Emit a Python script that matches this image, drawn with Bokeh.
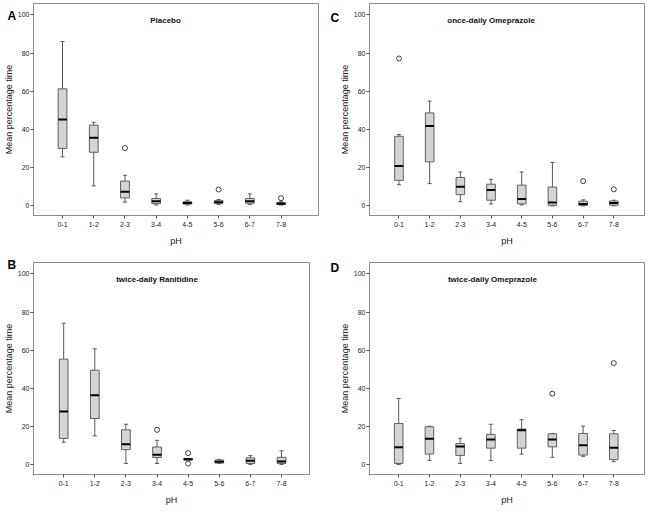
import numpy as np
from bokeh.plotting import figure
from bokeh.layouts import gridplot
from bokeh.models import FixedTicker, Label, Range1d
from bokeh.embed import file_html
from bokeh.resources import INLINE

# ---------------- data ----------------
categories = ["0-1", "1-2", "2-3", "3-4", "4-5", "5-6", "6-7", "7-8"]
y_ticks = [0, 20, 40, 60, 80, 100]

# A: Placebo
placebo_low = [25.7, 10.5, 2.0, 0.5, 0.5, 0.8, 0.7, 0.5]
placebo_q1 = [30.1, 28.1, 4.2, 1.2, 1.0, 1.4, 1.4, 0.8]
placebo_med = [45.2, 35.7, 7.5, 2.5, 1.6, 2.0, 2.4, 1.2]
placebo_q3 = [61.3, 42.3, 13.0, 3.9, 2.2, 2.8, 3.9, 1.8]
placebo_high = [86.1, 43.8, 16.1, 6.3, 3.0, 3.4, 6.3, 2.4]
placebo_out_cat = ["2-3", "5-6", "7-8"]
placebo_out_val = [30.3, 8.6, 4.1]

# B: twice-daily Ranitidine
ranitidine_low = [11.9, 15.2, 0.8, 0.8, 2.6, 0.8, 0.2, 0.2]
ranitidine_q1 = [13.9, 24.3, 8.0, 3.9, 2.6, 1.0, 0.8, 0.8]
ranitidine_med = [28.0, 36.5, 10.9, 5.4, 3.0, 1.7, 2.2, 1.8]
ranitidine_q3 = [55.4, 49.6, 18.4, 9.4, 3.4, 2.6, 3.7, 4.0]
ranitidine_high = [74.2, 60.8, 21.3, 12.9, 3.4, 2.9, 4.9, 7.4]
ranitidine_out_cat = ["3-4", "4-5", "4-5"]
ranitidine_out_val = [18.4, 6.2, 0.7]

# C: once-daily Omeprazole
ome1_low = [11.1, 11.7, 2.2, 1.0, 0.5, 0.0, 0.0, 0.1]
ome1_q1 = [13.4, 23.1, 5.9, 3.0, 1.1, 0.3, 0.3, 0.4]
ome1_med = [20.9, 41.9, 10.0, 8.4, 3.6, 1.8, 1.0, 1.5]
ome1_q3 = [36.5, 48.7, 14.9, 11.4, 10.9, 9.9, 2.5, 2.6]
ome1_high = [37.4, 54.9, 17.8, 14.0, 17.8, 22.8, 3.2, 3.0]
ome1_out_cat = ["0-1", "6-7", "7-8"]
ome1_out_val = [77.2, 13.0, 8.7]

# D: twice-daily Omeprazole
ome2_low = [0.2, 2.3, 0.8, 2.3, 5.7, 4.0, 4.5, 1.7]
ome2_q1 = [0.8, 5.7, 5.0, 8.8, 8.8, 9.5, 5.2, 2.8]
ome2_med = [9.3, 13.7, 9.7, 13.3, 18.2, 13.3, 10.3, 9.0]
ome2_q3 = [21.7, 20.0, 11.2, 16.0, 18.8, 16.3, 16.5, 16.3]
ome2_high = [34.8, 20.3, 14.0, 21.3, 23.7, 16.5, 20.3, 18.0]
ome2_out_cat = ["5-6", "7-8"]
ome2_out_val = [37.3, 53.3]

FONT = "Liberation Sans"
Y0, Y1 = -5, 106


def make_panel(title, letter, low, q1, med, q3, high, out_cat, out_val,
               x0, x1, frame_w, frame_h, b_left, b_right, b_top, b_bottom,
               title_x, letter_dx, letter_dy, letter_side):
    p = figure(frame_width=frame_w, frame_height=frame_h,
               x_range=Range1d(x0, x1), y_range=Range1d(Y0, Y1),
               min_border_left=b_left, min_border_right=b_right,
               min_border_top=b_top, min_border_bottom=b_bottom,
               output_backend="svg", toolbar_location=None)
    p.xgrid.visible = False
    p.ygrid.visible = False
    p.outline_line_color = "#8c8c8c"
    p.outline_line_width = 1
    p.background_fill_color = "white"
    p.border_fill_color = "white"

    xs = np.arange(len(categories), dtype=float)
    bw = 0.28
    cw = 0.13
    low = np.array(low); high = np.array(high)
    q1 = np.array(q1); q3 = np.array(q3); med = np.array(med)

    wc = "#5a5a5a"
    p.segment(x0=xs, y0=q3, x1=xs, y1=high, line_color=wc, line_width=1)
    p.segment(x0=xs, y0=low, x1=xs, y1=q1, line_color=wc, line_width=1)
    p.segment(x0=xs - cw / 2, y0=high, x1=xs + cw / 2, y1=high, line_color=wc, line_width=1)
    p.segment(x0=xs - cw / 2, y0=low, x1=xs + cw / 2, y1=low, line_color=wc, line_width=1)
    p.vbar(x=xs, width=bw, bottom=q1, top=q3, fill_color="#d4d4d4",
           line_color="#606060", line_width=1)
    p.segment(x0=xs - bw / 2, y0=med, x1=xs + bw / 2, y1=med,
              line_color="black", line_width=2)
    ox = [categories.index(c) for c in out_cat]
    p.scatter(x=ox, y=out_val, marker="circle", size=5, fill_color="white",
              line_color="#404040", line_width=1)

    p.xaxis.ticker = FixedTicker(ticks=list(range(len(categories))))
    p.xaxis.major_label_overrides = {i: c for i, c in enumerate(categories)}
    p.yaxis.ticker = FixedTicker(ticks=y_ticks)
    for ax in (p.xaxis[0], p.yaxis[0]):
        ax.axis_line_color = "#8c8c8c"
        ax.major_tick_line_color = "#555555"
        ax.major_tick_out = 3
        ax.major_tick_in = 0
        ax.minor_tick_line_color = None
        ax.major_label_text_font = FONT
        ax.major_label_text_font_size = "7px"
        ax.major_label_text_color = "#222222"
        ax.axis_label_text_font = FONT
        ax.axis_label_text_font_size = "9px"
        ax.axis_label_text_font_style = "normal"
        ax.axis_label_text_color = "#222222"
    p.xaxis.axis_label = "pH"
    p.yaxis.axis_label = "Mean percentage time"
    p.xaxis.major_label_standoff = 3
    p.xaxis.axis_label_standoff = 6
    p.yaxis.major_label_standoff = 1
    p.yaxis.axis_label_standoff = 1

    p.add_layout(Label(x=title_x, y=97, text=title, text_font=FONT,
                       text_font_style="bold", text_font_size="8px",
                       text_align="center", text_baseline="middle",
                       text_color="#111111"))

    # panel letter: placed in a side panel (not clipped), positioned in data units
    ppx = frame_w / (x1 - x0)
    ppy = frame_h / (Y1 - Y0)
    p.add_layout(Label(x=x0 - letter_dx / ppx, y=Y1 + letter_dy / ppy,
                       text=letter, text_font=FONT, text_font_style="bold",
                       text_font_size="12px", text_align="left", text_baseline="top",
                       text_color="black"), letter_side)
    return p


pA = make_panel("Placebo", "A", placebo_low, placebo_q1, placebo_med, placebo_q3,
                placebo_high, placebo_out_cat, placebo_out_val,
                -0.93, 8.2, 285, 212, 28, 8, 3, 35, 3.3, 26, -5, "right")
pB = make_panel("twice-daily Ranitidine", "B", ranitidine_low, ranitidine_q1,
                ranitidine_med, ranitidine_q3, ranitidine_high,
                ranitidine_out_cat, ranitidine_out_val,
                -0.97, 7.9, 276, 212, 28, 18, 12, 31, 3.0, 26, 5, "right")
pC = make_panel("once-daily Omeprazole", "C", ome1_low, ome1_q1, ome1_med, ome1_q3,
                ome1_high, ome1_out_cat, ome1_out_val,
                -0.96, 8.0, 275, 212, 42, 2, 3, 35, 3.0, 39, -7, "left")
pD = make_panel("twice-daily Omeprazole", "D", ome2_low, ome2_q1, ome2_med, ome2_q3,
                ome2_high, ome2_out_cat, ome2_out_val,
                -0.95, 8.0, 275, 212, 42, 2, 12, 31, 3.05, 39, 2, "left")

grid = gridplot([[pA, pC], [pB, pD]], toolbar_location=None)

with open("out.html", "w") as f:
    f.write(file_html(grid, INLINE))
